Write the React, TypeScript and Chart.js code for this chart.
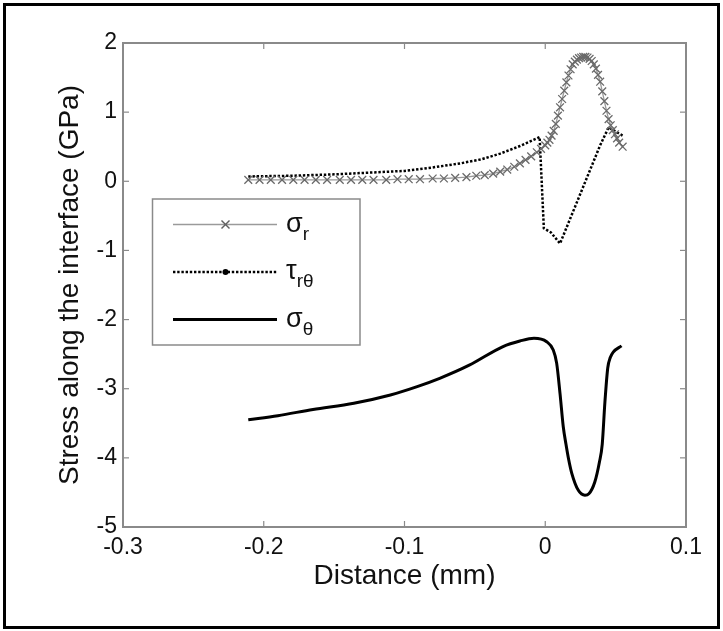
import React, { useEffect, useRef } from "react";
import { Chart, registerables } from "chart.js";
Chart.register(...registerables);

// sigma_r (gray, x markers)
const sigmaRX = [-0.211, -0.203, -0.195, -0.187, -0.179, -0.171, -0.163, -0.155, -0.146, -0.138, -0.130, -0.122, -0.113, -0.105, -0.097, -0.089, -0.080, -0.072, -0.064, -0.056, -0.049, -0.043, -0.037, -0.032, -0.027, -0.022, -0.018, -0.014, -0.010, -0.006, -0.003, 0.000, 0.0015, 0.003, 0.0045, 0.006, 0.0075, 0.009, 0.0105, 0.012, 0.0135, 0.015, 0.0165, 0.018, 0.0195, 0.021, 0.0225, 0.024, 0.0255, 0.027, 0.0285, 0.030, 0.0315, 0.033, 0.0345, 0.036, 0.0375, 0.039, 0.0405, 0.042, 0.0435, 0.045, 0.0465, 0.048, 0.0495, 0.051, 0.0525, 0.055];
const sigmaRY = [0.02, 0.02, 0.02, 0.02, 0.02, 0.02, 0.02, 0.02, 0.02, 0.02, 0.02, 0.02, 0.02, 0.03, 0.03, 0.03, 0.04, 0.04, 0.05, 0.06, 0.08, 0.09, 0.11, 0.14, 0.17, 0.21, 0.26, 0.31, 0.36, 0.42, 0.47, 0.52, 0.56, 0.60, 0.66, 0.73, 0.83, 0.95, 1.07, 1.19, 1.31, 1.43, 1.53, 1.62, 1.69, 1.73, 1.76, 1.78, 1.79, 1.80, 1.80, 1.79, 1.77, 1.74, 1.69, 1.63, 1.54, 1.44, 1.30, 1.16, 1.02, 0.90, 0.81, 0.74, 0.68, 0.62, 0.56, 0.50];

// tau_r-theta (black dotted)
const tauX = [-0.211, -0.18, -0.15, -0.12, -0.10, -0.08, -0.06, -0.045, -0.032, -0.018, -0.004, -0.001, 0.004, 0.0105, 0.039, 0.045, 0.050, 0.055];
const tauY = [0.07, 0.08, 0.10, 0.13, 0.15, 0.20, 0.26, 0.32, 0.40, 0.51, 0.64, -0.68, -0.74, -0.90, 0.52, 0.78, 0.72, 0.66];

// sigma_theta (black solid)
const sigmaThX = [-0.211, -0.19, -0.165, -0.136, -0.11, -0.091, -0.075, -0.054, -0.03, -0.018, -0.008, 0.001, 0.0057, 0.0081, 0.0105, 0.0128, 0.0147, 0.0166, 0.0188, 0.0235, 0.0282, 0.031, 0.0352, 0.0385, 0.0405, 0.0424, 0.0444, 0.0462, 0.0483, 0.0542];
const sigmaThY = [-3.45, -3.39, -3.30, -3.21, -3.09, -2.97, -2.85, -2.66, -2.39, -2.31, -2.27, -2.32, -2.44, -2.63, -3.07, -3.55, -3.80, -4.02, -4.22, -4.47, -4.54, -4.52, -4.35, -4.06, -3.80, -3.19, -2.70, -2.55, -2.47, -2.38];

const xTicks = [-0.3, -0.2, -0.1, 0, 0.1];
const xTickLabels = ["-0.3", "-0.2", "-0.1", "0", "0.1"];
const yTicks = [-5, -4, -3, -2, -1, 0, 1, 2];
const yTickLabels = ["-5", "-4", "-3", "-2", "-1", "0", "1", "2"];

const xTitle = "Distance (mm)";
const yTitle = "Stress along the interface (GPa)";
const legendMain = ["σ", "τ", "σ"];
const legendSub = ["r", "rθ", "θ"];

const FONT = '"Liberation Sans", Arial, Helvetica, sans-serif';

const toPoints = (xs: number[], ys: number[]) => xs.map((x, i) => ({ x, y: ys[i] }));

const labelFor = (ticks: number[], labels: string[], v: number) => {
  const i = ticks.findIndex((t) => Math.abs(t - v) < 1e-9);
  return i >= 0 ? labels[i] : "";
};

const framePlugin = {
  id: "frame",
  afterDraw(chart: any) {
    const { ctx, chartArea: ca, scales } = chart;
    ctx.save();
    ctx.strokeStyle = "#8a8a8a";
    ctx.lineWidth = 2;
    ctx.strokeRect(ca.left, ca.top, ca.right - ca.left, ca.bottom - ca.top);
    ctx.lineWidth = 1.2;
    const seg = (x1: number, y1: number, x2: number, y2: number) => {
      ctx.beginPath();
      ctx.moveTo(x1, y1);
      ctx.lineTo(x2, y2);
      ctx.stroke();
    };
    xTicks.forEach((v) => {
      const px = scales.x.getPixelForValue(v);
      seg(px, ca.bottom, px, ca.bottom - 6);
      seg(px, ca.top, px, ca.top + 6);
    });
    yTicks.forEach((v) => {
      const py = scales.y.getPixelForValue(v);
      seg(ca.left, py, ca.left + 6, py);
      seg(ca.right, py, ca.right - 6, py);
    });

    // legend
    const lx = 152.5, ly = 199, lw = 207.5, lh = 146;
    ctx.fillStyle = "#fff";
    ctx.fillRect(lx, ly, lw, lh);
    ctx.strokeStyle = "#8a8a8a";
    ctx.lineWidth = 1.5;
    ctx.strokeRect(lx, ly, lw, lh);
    const rowsY = [224.5, 272, 319.5];
    const x1 = 173, x2 = 277, xm = 225.5;
    ctx.strokeStyle = "#9a9a9a";
    ctx.lineWidth = 1.3;
    seg(x1, rowsY[0], x2, rowsY[0]);
    ctx.strokeStyle = "#606060";
    ctx.lineWidth = 1.5;
    seg(xm - 4, rowsY[0] - 4, xm + 4, rowsY[0] + 4);
    seg(xm - 4, rowsY[0] + 4, xm + 4, rowsY[0] - 4);
    ctx.strokeStyle = "#000";
    ctx.lineWidth = 2.5;
    ctx.setLineDash([2.4, 1.8]);
    seg(x1, rowsY[1], x2, rowsY[1]);
    ctx.setLineDash([]);
    ctx.fillStyle = "#000";
    ctx.beginPath();
    ctx.arc(xm, rowsY[1], 3, 0, Math.PI * 2);
    ctx.fill();
    ctx.lineWidth = 3;
    seg(x1, rowsY[2], x2, rowsY[2]);
    ctx.fillStyle = "#111";
    ctx.textBaseline = "alphabetic";
    ctx.textAlign = "left";
    rowsY.forEach((y, i) => {
      ctx.font = `27px ${FONT}`;
      ctx.fillText(legendMain[i], 286, y + 7);
      const w = ctx.measureText(legendMain[i]).width;
      ctx.font = `19px ${FONT}`;
      ctx.fillText(legendSub[i], 286 + w, y + 15);
    });

    ctx.strokeStyle = "#000";
    ctx.lineWidth = 3;
    ctx.strokeRect(4.5, 4.5, 714, 623);
    ctx.restore();
  },
};

export default function App() {
  const ref = useRef<HTMLCanvasElement | null>(null);
  useEffect(() => {
    if (!ref.current) return;
    const chart = new Chart(ref.current, {
      type: "line",
      data: {
        datasets: [
          {
            label: "σr",
            data: toPoints(sigmaRX, sigmaRY),
            borderColor: "#9a9a9a",
            borderWidth: 1.3,
            pointStyle: "crossRot",
            pointRadius: 5.5,
            pointBorderColor: "#6a6a6a",
            pointBorderWidth: 1.3,
            pointBackgroundColor: "#6a6a6a",
            tension: 0,
          },
          {
            label: "τrθ",
            data: toPoints(tauX, tauY),
            borderColor: "#000",
            borderWidth: 2.5,
            borderDash: [2.4, 1.8],
            pointRadius: 0,
            tension: 0,
          },
          {
            label: "σθ",
            data: toPoints(sigmaThX, sigmaThY),
            borderColor: "#000",
            borderWidth: 3,
            pointRadius: 0,
            cubicInterpolationMode: "monotone",
          },
        ],
      },
      options: {
        animation: false,
        responsive: true,
        maintainAspectRatio: false,
        layout: { padding: { left: 0, top: 43, right: 37, bottom: 0 } },
        plugins: { legend: { display: false }, tooltip: { enabled: false } },
        scales: {
          x: {
            type: "linear",
            min: -0.3,
            max: 0.1,
            afterBuildTicks: (s: any) => {
              s.ticks = xTicks.map((v) => ({ value: v }));
            },
            afterFit: (s: any) => {
              s.height = 104;
            },
            grid: { display: false, drawTicks: false },
            border: { display: false },
            ticks: {
              padding: 7,
              color: "#111",
              maxRotation: 0,
              autoSkip: false,
              font: { family: FONT, size: 23 },
              callback: (v: any) => labelFor(xTicks, xTickLabels, Number(v)),
            },
            title: {
              display: true,
              text: xTitle,
              color: "#111",
              font: { family: FONT, size: 28 },
              padding: { top: 0, bottom: 38 },
            },
          },
          y: {
            type: "linear",
            min: -5,
            max: 2,
            afterBuildTicks: (s: any) => {
              s.ticks = yTicks.map((v) => ({ value: v }));
            },
            afterFit: (s: any) => {
              s.width = 123;
            },
            grid: { display: false, drawTicks: false },
            border: { display: false },
            ticks: {
              padding: 6,
              color: "#111",
              autoSkip: false,
              font: { family: FONT, size: 23 },
              callback: (v: any) => labelFor(yTicks, yTickLabels, Number(v)),
            },
            title: {
              display: true,
              text: yTitle,
              color: "#111",
              font: { family: FONT, size: 28 },
              padding: { top: 53, bottom: 0 },
            },
          },
        },
      },
      plugins: [framePlugin],
    } as any);
    return () => chart.destroy();
  }, []);
  return (
    <div style={{ position: "fixed", left: 0, top: 0, width: 723, height: 631, background: "#fff" }}>
      <canvas ref={ref} />
    </div>
  );
}
